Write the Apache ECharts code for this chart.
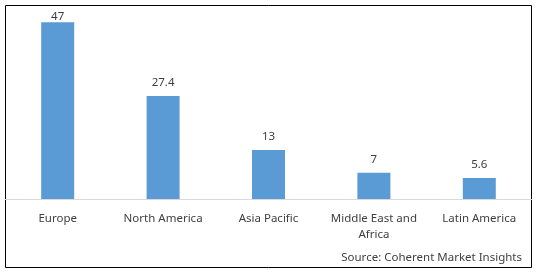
<!DOCTYPE html>
<html>
<head>
<meta charset="UTF-8"/>
<title></title>
<script src="https://cdn.jsdelivr.net/npm/echarts@6/dist/echarts.min.js"></script>
<style>
html, body { margin: 0; padding: 0; background: #fff; }
#main { width: 538px; height: 272px; }
</style>
</head>
<body>
<div id="main"></div>
<script>
var regions = ['Europe', 'North America', 'Asia Pacific', 'Middle East and\nAfrica', 'Latin America'];
var shares = [47, 27.4, 13, 7, 5.6];
var sourceText = 'Source: Coherent Market Insights';

var FONT = '"Noto Sans", sans-serif';
var chart = echarts.init(document.getElementById('main'));

// top bar label sits tight under the plot top, like the original
var barData = shares.map(function (v, i) {
  var item = { value: v };
  if (i === 0) item.label = { distance: 0 };
  return item;
});

var option = {
  animation: false,
  backgroundColor: '#fff',
  grid: { left: 5, right: 6, top: 11, bottom: 73 },
  xAxis: {
    type: 'category',
    data: regions,
    axisLine: { lineStyle: { color: '#d9d9d9', width: 1 } },
    axisTick: { show: false },
    axisLabel: {
      interval: 0,
      margin: 12,
      color: '#404040',
      fontFamily: FONT,
      fontSize: 11.5,
      lineHeight: 16
    }
  },
  yAxis: {
    type: 'value',
    min: 0,
    max: 50,
    show: false,
    splitLine: { show: false }
  },
  series: [{
    type: 'bar',
    data: barData,
    barWidth: 33,
    itemStyle: { color: '#5b9bd5' },
    label: {
      show: true,
      position: 'top',
      distance: 7,
      color: '#404040',
      fontFamily: FONT,
      fontSize: 11.5
    }
  }],
  graphic: [
    {
      type: 'rect',
      shape: { x: 5.5, y: 5.5, width: 526, height: 262 },
      style: { fill: 'none', stroke: '#000', lineWidth: 1 },
      silent: true
    },
    {
      type: 'text',
      right: 16,
      top: 252,
      style: { text: sourceText, fill: '#404040', font: '11.5px ' + FONT }
    }
  ]
};
chart.setOption(option);
</script>
</body>
</html>
